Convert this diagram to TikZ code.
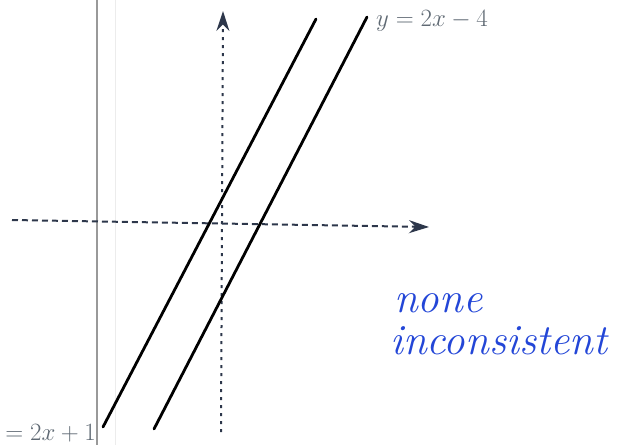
\documentclass[tikz,border=0pt]{standalone}
\usepackage{amsmath}
\usepackage{tikz}
\usetikzlibrary{arrows.meta}

\definecolor{axisgray}{RGB}{45,55,75}
\definecolor{labelgray}{RGB}{95,105,115}
\definecolor{penblue}{RGB}{35,70,215}

\begin{document}
\begin{tikzpicture}[x=1pt, y=-1pt, >={Stealth[length=20pt, width=13pt]},
    axis/.style={axisgray, line width=2pt, ->},
    graphline/.style={black, line width=2.8pt, line cap=round},
    eqlabel/.style={labelgray, font=\fontsize{26}{30}\selectfont, inner sep=0pt},
    handnote/.style={penblue, font=\fontsize{43}{43}\selectfont\itshape, inner sep=0pt, anchor=west}]
    \useasboundingbox (0,0) rectangle (622,445);
    % Page margin lines
    \draw[gray!80, line width=1.2pt] (97,0) -- (97,445);
    \draw[gray!15, line width=0.8pt] (115,0) -- (115,445);
    % Axes
    \coordinate (xstart) at (12,220);
    \coordinate (xend) at (429,227);
    \coordinate (ystart) at (221,432);
    \coordinate (yend) at (223,11);
    \draw[axis, dash pattern=on 6pt off 4pt] (xstart) -- (xend);
    \draw[axis, dash pattern=on 3pt off 5pt] (ystart) -- (yend);
    % Lines y = 2x + 1 and y = 2x - 4
    \coordinate (a1) at (103,427);
    \coordinate (a2) at (316,19);
    \coordinate (b1) at (154,429);
    \coordinate (b2) at (367,17);
    \draw[graphline] (a1) -- (a2);
    \draw[graphline] (b1) -- (b2);
    % Equation labels
    \node[eqlabel, anchor=west] (lblb) at (376,21) {$y = 2x - 4$};
    \node[eqlabel, anchor=east] (lbla) at (96,433) {$= 2x + 1$};
    % Handwritten note
    \node[handnote] (none) at (394,303) {none};
    \node[handnote] (incons) at (390,341) {inconsistent};
\end{tikzpicture}
\end{document}
